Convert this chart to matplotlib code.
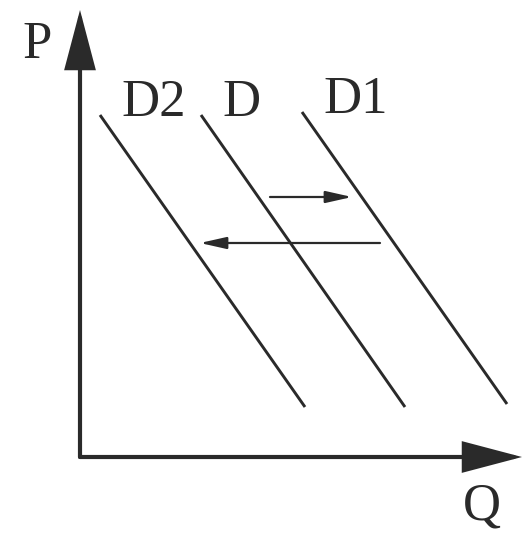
import matplotlib
matplotlib.use("Agg")
import matplotlib.pyplot as plt

# demand curves: (Q, P) at top and bottom ends
curve_names = ["D2", "D", "D1"]
curve_q_top = [20, 121, 222]
curve_p_top = [342, 342, 345]
curve_q_bot = [225, 325, 427]
curve_p_bot = [50, 50, 53]

# shift arrows: start Q, end Q, price level
shift_q_start = [190, 300]
shift_q_end = [272, 120]
shift_p = [260, 214]

q_max = 442
p_max = 447

INK = "#2a2a2a"

fig = plt.figure(figsize=(5.32, 5.43), dpi=100)
ax = fig.add_axes([0, 0, 1, 1])
ax.set_xlim(-80, 452)
ax.set_ylim(-86, 457)
ax.axis("off")

serif = ["Liberation Serif", "DejaVu Serif"]

# axes with big filled heads
for tip in [(0, p_max), (q_max, 0)]:
    ax.annotate("", xy=tip, xytext=(0, 0),
                arrowprops=dict(arrowstyle="-|>,head_length=36,head_width=9.5",
                                mutation_scale=1, lw=3.0, color=INK,
                                shrinkA=0, shrinkB=0, joinstyle="miter"))

for name, qt, pt, qb, pb in zip(curve_names, curve_q_top, curve_p_top,
                                curve_q_bot, curve_p_bot):
    ax.plot([qt, qb], [pt, pb], color=INK, lw=2.1, solid_capstyle="butt")
    ax.text(qt + 21, pt + 12, name, fontsize=38, family=serif, color=INK,
            ha="left", va="center")

for q0, q1, p in zip(shift_q_start, shift_q_end, shift_p):
    ax.annotate("", xy=(q1, p), xytext=(q0, p),
                arrowprops=dict(arrowstyle="-|>,head_length=16,head_width=3.6",
                                mutation_scale=1, lw=1.6, color=INK,
                                shrinkA=0, shrinkB=0))

ax.text(-43, 412, "P", fontsize=38, family=serif, color=INK,
        ha="center", va="center")
ax.text(402, -50, "Q", fontsize=38, family=serif, color=INK,
        ha="center", va="center")

fig.savefig("out.png", dpi=100, facecolor="white")
